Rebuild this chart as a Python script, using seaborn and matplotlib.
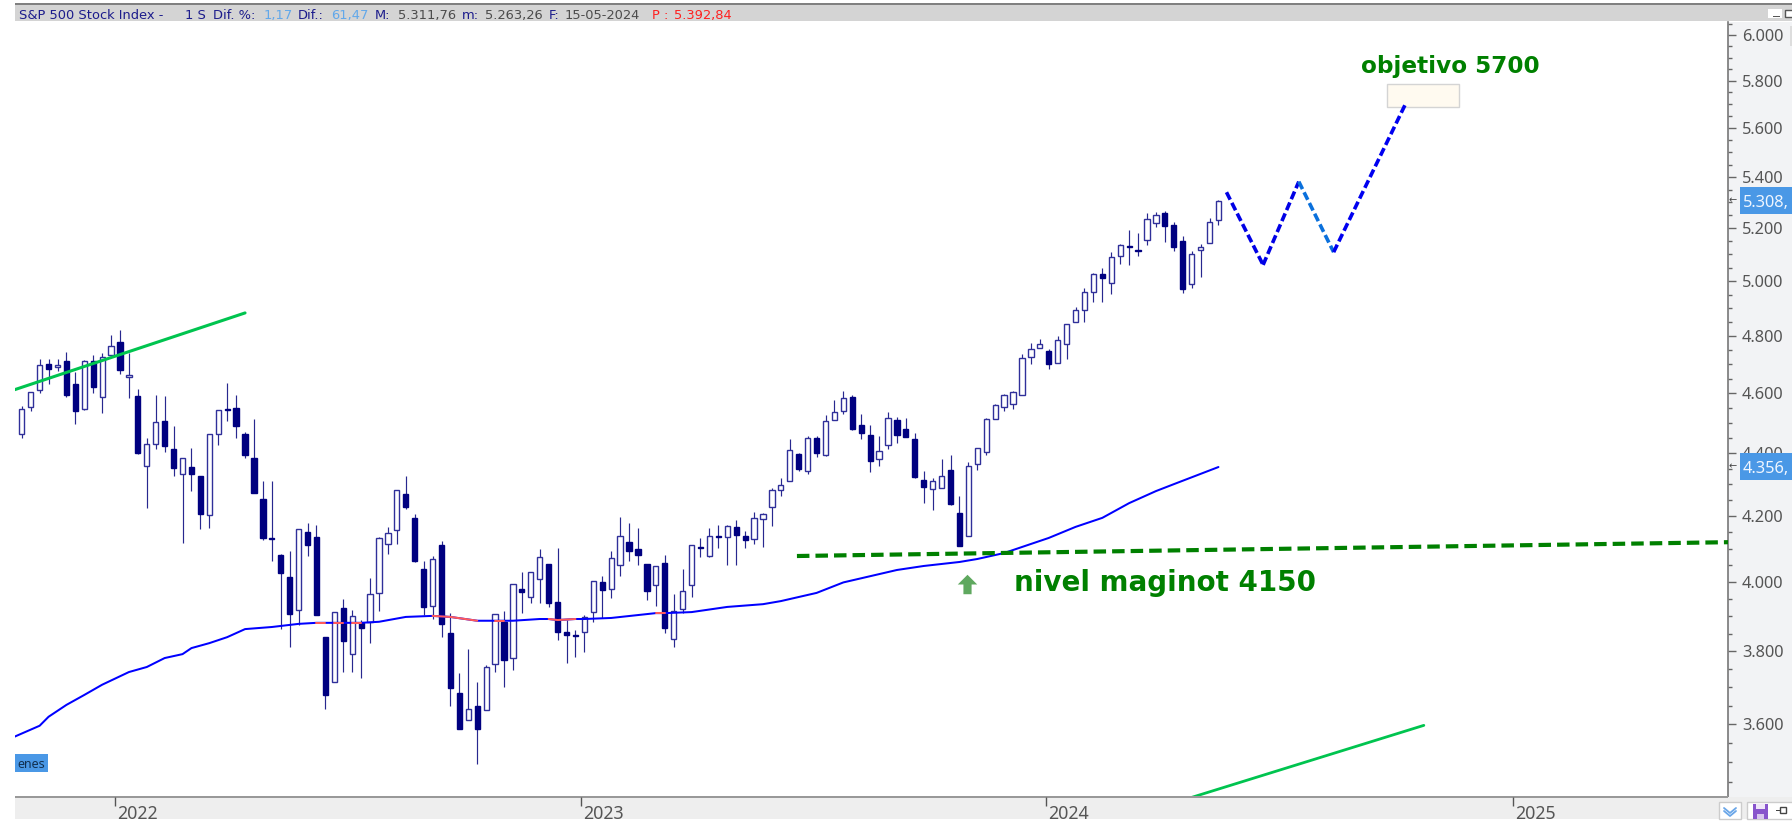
import pandas as pd
import seaborn as sns
import matplotlib
matplotlib.use('Agg')
import matplotlib.pyplot as plt
from matplotlib.patches import Rectangle
from matplotlib.lines import Line2D
from matplotlib.ticker import FixedLocator, FixedFormatter, NullFormatter

# Weekly candles
opens = [4464, 4555, 4613, 4703, 4692, 4713, 4633, 4548, 4713, 4588, 4734, 4780, 4658, 4592, 4359, 4431, 4508, 4414, 4333, 4356,
         4327, 4204, 4464, 4548, 4551, 4464, 4385, 4253, 4133, 4081, 4015, 3918, 4151, 4136, 3840, 3715, 3924, 3792, 3881, 3884,
         3968, 4114, 4158, 4269, 4195, 4039, 3930, 4111, 3852, 3684, 3612, 3649, 3638, 3764, 3884, 3781, 3980, 3956, 4010, 4054,
         3941, 3855, 3846, 3855, 3912, 3999, 3980, 4051, 4121, 4099, 4054, 3991, 4057, 3835, 3921, 3991, 4105, 4078, 4139, 4136,
         4167, 4139, 4130, 4191, 4228, 4282, 4311, 4398, 4343, 4451, 4395, 4511, 4541, 4588, 4494, 4461, 4382, 4428, 4511, 4481,
         4448, 4314, 4285, 4289, 4346, 4210, 4139, 4366, 4405, 4515, 4555, 4565, 4595, 4727, 4758, 4748, 4706, 4773, 4851, 4894,
         4960, 5027, 4993, 5094, 5131, 5116, 5155, 5220, 5259, 5213, 5151, 4989, 5116, 5143, 5232]
highs = [4558, 4606, 4720, 4720, 4720, 4744, 4675, 4716, 4734, 4741, 4805, 4823, 4741, 4616, 4451, 4595, 4592, 4491, 4385, 4418,
         4327, 4464, 4545, 4637, 4595, 4471, 4515, 4311, 4311, 4085, 4093, 4161, 4179, 4173, 3840, 3912, 3950, 3918, 3889, 4012,
         4136, 4167, 4282, 4327, 4207, 4063, 4078, 4124, 3909, 3739, 3806, 3715, 3762, 3907, 3915, 3995, 4030, 4030, 4099, 4054,
         4102, 3889, 3861, 3904, 4002, 4018, 4093, 4198, 4179, 4164, 4054, 4048, 4081, 3965, 4039, 4111, 4133, 4164, 4173, 4173,
         4188, 4155, 4213, 4210, 4289, 4321, 4448, 4401, 4458, 4458, 4528, 4578, 4609, 4595, 4531, 4494, 4458, 4538, 4521, 4518,
         4468, 4343, 4321, 4382, 4395, 4263, 4372, 4418, 4518, 4565, 4599, 4609, 4737, 4776, 4790, 4755, 4801, 4844, 4905, 4975,
         5030, 5049, 5109, 5139, 5193, 5181, 5259, 5263, 5267, 5224, 5170, 5112, 5139, 5240, 5309]
lows = [4451, 4541, 4602, 4633, 4678, 4588, 4498, 4545, 4602, 4534, 4734, 4668, 4585, 4398, 4225, 4414, 4405, 4327, 4118, 4279,
        4161, 4164, 4428, 4508, 4451, 4385, 4272, 4127, 4063, 3863, 3812, 3875, 4078, 3904, 3641, 3715, 3742, 3742, 3726, 3823,
        3915, 4084, 4114, 4222, 4060, 3904, 3892, 3840, 3649, 3588, 3612, 3496, 3638, 3742, 3701, 3748, 3909, 3938, 3938, 3927,
        3832, 3767, 3784, 3798, 3884, 3895, 3953, 4018, 4063, 4051, 3947, 3930, 3852, 3812, 3909, 3956, 4075, 4075, 4102, 4051,
        4051, 4102, 4114, 4105, 4170, 4263, 4311, 4343, 4333, 4388, 4391, 4511, 4531, 4478, 4448, 4340, 4359, 4414, 4434, 4454,
        4321, 4241, 4219, 4289, 4235, 4108, 4139, 4346, 4395, 4515, 4541, 4548, 4595, 4703, 4758, 4685, 4706, 4720, 4851, 4851,
        4923, 4923, 4952, 5064, 5060, 5094, 5135, 5205, 5147, 5112, 4956, 4975, 5016, 5143, 5213]
closes = [4548, 4606, 4699, 4685, 4699, 4595, 4541, 4713, 4623, 4727, 4765, 4682, 4665, 4401, 4431, 4505, 4424, 4352, 4385, 4333,
          4207, 4464, 4545, 4545, 4491, 4395, 4272, 4133, 4130, 4027, 3907, 4161, 4111, 3904, 3679, 3912, 3829, 3901, 3866, 3965,
          4133, 4148, 4282, 4228, 4063, 3927, 4069, 3878, 3698, 3588, 3641, 3588, 3756, 3907, 3775, 3995, 3971, 4030, 4075, 3938,
          3855, 3846, 3843, 3898, 4002, 3976, 4072, 4139, 4093, 4081, 3973, 4048, 3866, 3915, 3973, 4111, 4102, 4139, 4136, 4170,
          4142, 4127, 4195, 4207, 4282, 4298, 4411, 4349, 4451, 4401, 4508, 4538, 4585, 4481, 4468, 4375, 4408, 4518, 4461, 4454,
          4324, 4292, 4311, 4327, 4238, 4108, 4359, 4418, 4515, 4561, 4595, 4606, 4723, 4755, 4773, 4703, 4787, 4844, 4894, 4960,
          5027, 5012, 5090, 5135, 5128, 5112, 5236, 5251, 5209, 5128, 4971, 5101, 5128, 5224, 5305]

# 40 week style average, read at some of the candles
ma_weeks = [-1, 2, 3, 5, 7, 9, 12, 14, 16, 18, 19, 21, 23, 25, 28, 31, 33, 34, 35, 36, 37, 38, 40, 43, 46, 48, 51, 53, 54, 55,
            58, 59, 60, 62, 63, 66, 71, 72, 75, 79, 83, 85, 89, 92, 98, 101, 105, 107, 110, 115, 118, 121, 124, 127, 129, 134]
ma_values = [3565, 3596, 3620, 3652, 3679, 3707, 3742, 3756, 3781, 3792, 3809, 3823, 3840, 3863, 3869, 3878, 3881, 3881, 3881,
             3881, 3881, 3881, 3884, 3898, 3901, 3898, 3887, 3887, 3887, 3887, 3892, 3892, 3889, 3892, 3892, 3895, 3909, 3909,
             3912, 3927, 3935, 3944, 3968, 3999, 4036, 4048, 4060, 4069, 4087, 4133, 4167, 4195, 4241, 4279, 4301, 4356]
ma_red_spans = [(33, 34), (35, 36), (37, 38), (46, 51), (53, 54), (59, 62), (71, 72)]

forecast_weeks = [134.9, 139, 143, 146.9, 155]
forecast_values = [5340, 5060, 5382, 5108, 5705]
forecast_colors = ['#0000e6', '#0000e6', '#0a70dc', '#0000f0']

trend_up_weeks = [-0.8, 25]
trend_up_values = [4613, 4883]
trend_low_weeks = [131, 157]
trend_low_values = [3410, 3597]
maginot_weeks = [86.8, 191.1]
maginot_values = [4078, 4120]

major_prices = [3400, 3600, 3800, 4000, 4200, 4400, 5000, 5200, 5400, 5600, 5800, 6000]
major_labels = ['3.400', '3.600', '3.800', '4.000', '4.200', '4.400', '5.000', '5.200', '5.400', '5.600', '5.800', '6.000']
extra_prices = [4600, 4800]
extra_labels = ['4.600', '4.800']
minor_prices = list(range(3450, 6100, 50))
year_labels = ['2022', '2023', '2024', '2025']

dates = pd.date_range(end='2024-05-15', periods=len(opens), freq='7D')


def week(i):
    return dates[0] + pd.Timedelta(days=7 * i)


W, H = 1792, 822
sns.set_style('white')
plt.rcParams['font.family'] = ['Noto Sans', 'DejaVu Sans']

fig = plt.figure(figsize=(W / 100, H / 100), dpi=100)


def fx(x):
    return x / W


def fy(y):
    return 1 - y / H


def box(x0, y0, x1, y1, color, edge='none', z=1, lw=1):
    fig.add_artist(Rectangle((fx(x0), fy(y1)), (x1 - x0) / W, (y1 - y0) / H, transform=fig.transFigure,
                             facecolor=color, edgecolor=edge, linewidth=lw, zorder=z))


def label(x, y, s, color, size=10, z=6, **kw):
    fig.text(fx(x), fy(y), s, color=color, fontsize=size, zorder=z, va='baseline', **kw)


# panel behind the price axis
box(1728, 22, W, 797, '#f2f3f5', z=-1)

ax = fig.add_axes([fx(15), fy(797), (1728 - 15) / W, (797 - 22) / H])
ax.set_yscale('log')
ax.set_xlim(week(-0.76), week(191.06))
ax.set_ylim(3411, 6058)

# candles
candles = pd.DataFrame({'date': dates, 'open': opens, 'high': highs, 'low': lows, 'close': closes})
candles['up'] = candles['close'] >= candles['open']
ax.vlines(candles['date'], candles['low'], candles['high'], color='#28288f', linewidth=0.85, zorder=2)
body_low = candles[['open', 'close']].min(axis=1)
body_size = (candles['close'] - candles['open']).abs()
up = candles['up']
ax.bar(candles['date'][up], body_size[up], bottom=body_low[up], width=4.1, facecolor='white', edgecolor='#30309a',
       linewidth=1.0, zorder=3)
ax.bar(candles['date'][~up], body_size[~up], bottom=body_low[~up], width=4.1, facecolor='#000080', edgecolor='#000080',
       linewidth=1.0, zorder=3)

# moving average, red where it turns down
ma = pd.DataFrame({'date': [week(i) for i in ma_weeks], 'value': ma_values, 'n': ma_weeks})
sns.lineplot(data=ma, x='date', y='value', ax=ax, color='#0000ff', linewidth=1.45, estimator=None, zorder=4)
for start, end in ma_red_spans:
    part = ma[(ma['n'] >= start) & (ma['n'] <= end)]
    sns.lineplot(data=part, x='date', y='value', ax=ax, color='#ff5a5a', linewidth=1.45, estimator=None, zorder=5)

# drawn lines
sns.lineplot(x=[week(i) for i in trend_up_weeks], y=trend_up_values, ax=ax, color='#00c44f', linewidth=2.2, zorder=6)
sns.lineplot(x=[week(i) for i in trend_low_weeks], y=trend_low_values, ax=ax, color='#00c44f', linewidth=2.0, zorder=6)
sns.lineplot(x=[week(i) for i in maginot_weeks], y=maginot_values, ax=ax, color='#008000', linewidth=3.0,
             linestyle=(0, (3.0, 1.45)), zorder=6)
for k, c in enumerate(forecast_colors):
    sns.lineplot(x=[week(i) for i in forecast_weeks[k:k + 2]], y=forecast_values[k:k + 2], ax=ax, color=c,
                 linewidth=2.6, linestyle=(0, (2.3, 1.0)), zorder=6)

# target box
ax.bar(week(156.9), 5786 - 5690, bottom=5690, width=56, facecolor='#fffaf0', edgecolor='#d4d4d4', linewidth=1.0, zorder=5)

ax.text(week(150), 5834, 'objetivo 5700', color='#008000', fontsize=16.7, fontweight='bold',
        family=['DejaVu Sans'], va='baseline', zorder=7)
ax.text(week(111.1), 3974, 'nivel maginot 4150', color='#008000', fontsize=20, fontweight='bold',
        family=['DejaVu Sans'], va='baseline', zorder=7)
up_arrow = [(-1, 0), (0, 1), (1, 0), (0.42, 0), (0.42, -1), (-0.42, -1), (-0.42, 0), (-1, 0)]
ax.plot([week(105.8)], [3995], marker=up_arrow, markersize=14, color='#5fa85f', markeredgewidth=0, zorder=7)

# axes dressing
ax.set_xlabel('')
ax.set_ylabel('')
ax.xaxis.set_major_formatter(NullFormatter())
ax.tick_params(axis='x', length=0, labelbottom=False)
ax.yaxis.tick_right()
all_prices = major_prices + extra_prices
all_labels = major_labels + extra_labels
ax.yaxis.set_major_locator(FixedLocator(all_prices))
ax.yaxis.set_major_formatter(FixedFormatter(all_labels))
ax.yaxis.set_minor_locator(FixedLocator(minor_prices))
ax.yaxis.set_minor_formatter(NullFormatter())
ax.tick_params(axis='y', which='major', length=5.8, width=1, color='#666666', pad=4.3, labelsize=11.8, labelcolor='#555555')
ax.tick_params(axis='y', which='minor', length=2.9, width=1, color='#666666')
for name in ['top', 'left', 'bottom']:
    ax.spines[name].set_visible(False)
ax.spines['right'].set_color('#777777')
ax.spines['right'].set_linewidth(1.2)

# header strip
box(15, 5, W, 21, '#d4d4d4')
box(15, 3, W, 5, '#808080')
navy = '#1c1c8c'
sky = '#62a8ea'
grey = '#4c4c4c'
red = '#ff2020'
header = [(19, 'S&P 500 Stock Index -', navy), (185, '1 S', navy), (213, 'Dif. %:', navy), (264, '1,17', sky),
          (298, 'Dif.:', navy), (331, '61,47', sky), (375, 'M:', navy), (398, '5.311,76', grey), (462, 'm:', navy),
          (485, '5.263,26', grey), (549, 'F:', navy), (565, '15-05-2024', grey), (652, 'P :', red), (674, '5.392,84', red)]
for x, s, c in header:
    label(x, 19, s, c, size=9.4, family=['DejaVu Sans'])
box(1768, 9, 1782, 18, 'white')
box(1773, 16, 1780, 17, '#555555', z=2)
box(1785, 10, 1796, 17, 'white', edge='#555555')
box(1790, 26, 1796, 46, '#dddddd')

# bottom time strip
box(15, 797, W, 819, '#eeeeee', z=1)
box(15, 796, 1728, 798, '#999999', z=1)
axb = fig.add_axes([fx(15), fy(819), (1728 - 15) / W, (819 - 797) / H], zorder=2)
axb.patch.set_alpha(0)
axb.set_xlim(week(-0.76), week(191.06))
axb.set_ylim(0, 1)
axb.set_yticks([])
for spine in axb.spines.values():
    spine.set_visible(False)
year_ticks = [pd.Timestamp(y + '-01-01') for y in year_labels]
axb.set_xticks(year_ticks)
axb.xaxis.set_ticks_position('top')
axb.tick_params(axis='x', direction='in', length=6.8, width=1, color='#555555', labelbottom=False, labeltop=False)
for t, s in zip(year_ticks, year_labels):
    axb.annotate(s, (t, 0), xytext=(1.5, 0), textcoords='offset points', color='#555555', fontsize=12.8,
                 va='baseline', annotation_clip=False, clip_on=True)

# price flags on the axis
for y0, y1, s in [(187, 214, '5.308,'), (453, 480, '4.356,')]:
    box(1740, y0, W, y1, '#4a98e6', z=3)
    label(1743, y1 - 7, s, '#f0f6ff', size=11.8)
    label(1729, (y0 + y1) / 2 + 3, '←', '#444444', size=7)

# label left over from the chart tool
box(15, 754, 48, 772, '#4a98e6', z=3)
label(17, 768, 'enes', '#123050', size=9)

# bottom right buttons
box(1719, 802, 1741, 819, 'white', edge='#cccccc', z=3)
box(1747, 802, W + 3, 819, 'white', edge='#cccccc', z=3)
fig.add_artist(Line2D([fx(1724), fx(1730), fx(1736)], [fy(808), fy(813), fy(808)], color='#6aa6e8', linewidth=1.3, zorder=4))
fig.add_artist(Line2D([fx(1724), fx(1730), fx(1736)], [fy(811), fy(816), fy(811)], color='#6aa6e8', linewidth=1.3, zorder=4))
box(1753, 804, 1768, 819, '#8855cc', z=4)
box(1756, 804, 1765, 809, '#efe6f8', z=5)
box(1757, 814, 1764, 819, '#d8c6ee', z=5)
box(1780, 807, 1786, 813, 'white', edge='#444444', z=4)
box(1776, 810, 1780, 811, '#444444', z=4)

plt.savefig('out.png', dpi=100)
